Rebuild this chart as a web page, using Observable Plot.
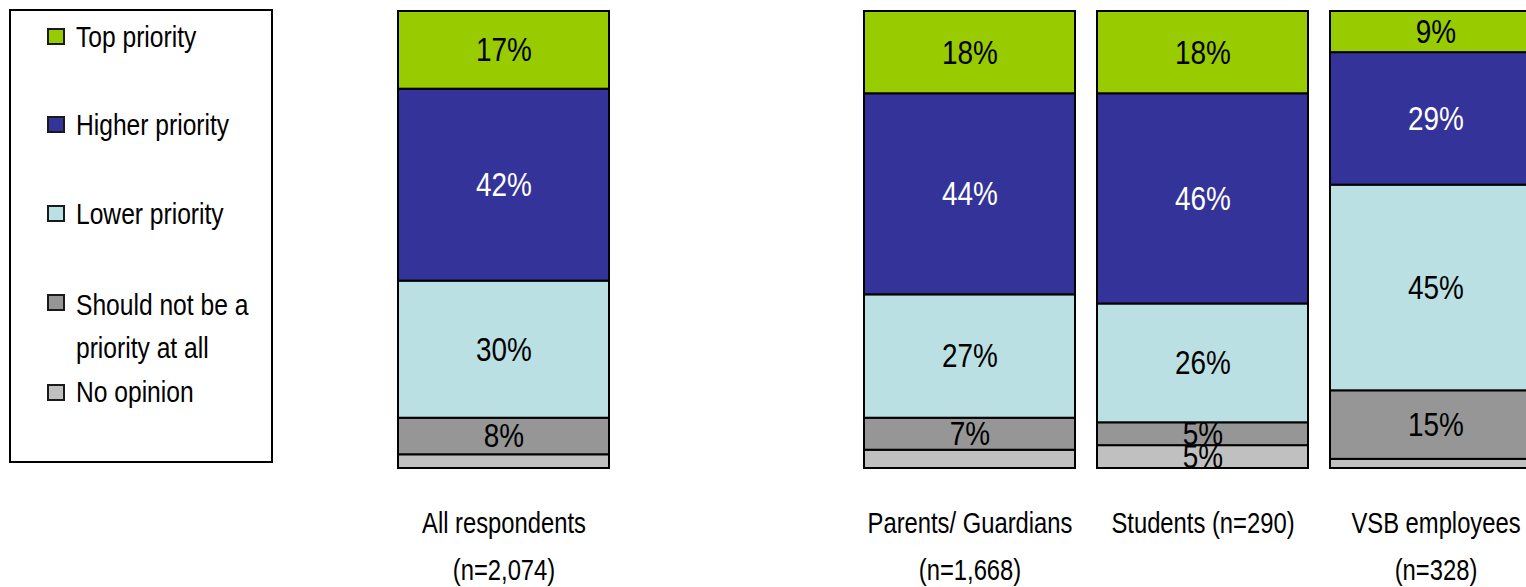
<!DOCTYPE html>
<html>
<head>
<meta charset="utf-8">
<script src="https://cdn.jsdelivr.net/npm/d3@7"></script>
<script src="https://cdn.jsdelivr.net/npm/@observablehq/plot@0.6"></script>
<style>
  html, body { margin: 0; padding: 0; background: #fff; }
  #wrap { position: relative; width: 1526px; height: 587px; overflow: hidden;
          font-family: "Liberation Sans", Arial, sans-serif; }
  #wrap svg { position: absolute; left: 0; top: 0; }
  .legend-box { position: absolute; left: 9px; top: 9px; width: 264px; height: 454px;
                box-sizing: border-box; border: 2px solid #000; }
  .sw { position: absolute; left: 47px; width: 18px; height: 17px; box-sizing: border-box; border: 2px solid #1a1a1a; }
  .lt { position: absolute; left: 76px; font-size: 30px; line-height: 43px; white-space: pre; color: #000;
        transform: scaleX(0.82); transform-origin: left top; }
</style>
</head>
<body>
<div id="wrap"></div>
<script>
// ---- data ----
const groups = ["All respondents", "gap", "Parents/ Guardians", "Students", "VSB employees"];
const groupLabels = ["All respondents\n(n=2,074)", "", "Parents/ Guardians\n(n=1,668)", "Students (n=290)", "VSB employees\n(n=328)"];
const barGroups = ["All respondents", "Parents/ Guardians", "Students", "VSB employees"];
const categories = ["Top priority", "Higher priority", "Lower priority", "Should not be a priority at all", "No opinion"];
const legendLabels = ["Top priority", "Higher priority", "Lower priority", "Should not be a\npriority at all", "No opinion"];
const colors = ["#99CC00", "#333399", "#BBE0E3", "#969696", "#C0C0C0"];
const topPriority = [17, 18, 18, 9];
const higherPriority = [42, 44, 46, 29];
const lowerPriority = [30, 27, 26, 45];
const notPriority = [8, 7, 5, 15];
const noOpinion = [3, 4, 5, 2];

// bottom-to-top stacking order
const series = [
  ["No opinion", noOpinion],
  ["Should not be a priority at all", notPriority],
  ["Lower priority", lowerPriority],
  ["Higher priority", higherPriority],
  ["Top priority", topPriority]
];
const data = [];
barGroups.forEach((g, i) => {
  series.forEach(([cat, vals]) => data.push({group: g, category: cat, value: vals[i]}));
});

const font = '"Liberation Sans", Arial, sans-serif';

const chart = Plot.plot({
  width: 1526,
  height: 587,
  marginTop: 11,
  marginBottom: 119,
  style: {fontFamily: font, color: "#000", background: "transparent"},
  x: {domain: groups, range: [374.7, 1563.5], paddingInner: 0.0956, paddingOuter: 0.0956, axis: null},
  y: {domain: [0, 100], axis: null},
  color: {domain: categories, range: colors},
  marks: [
    Plot.barY(data, {x: "group", y: "value", fill: "category", z: "category", stroke: "#000", strokeWidth: 2}),
    Plot.text(data, Plot.stackY({x: "group", y: "value", z: "category",
      text: d => d.category === "Higher priority" ? d.value + "%" : null,
      fill: "#fff", fontSize: 34})),
    Plot.text(data, Plot.stackY({x: "group", y: "value", z: "category",
      text: d => (d.category !== "Higher priority" && d.value >= 5) ? d.value + "%" : null,
      fill: "#000", fontSize: 34})),
    Plot.axisX({tickSize: 0, tickPadding: 31, fontSize: 29, lineHeight: 1.62, label: null,
      tickFormat: d => groupLabels[groups.indexOf(d)], fill: "#000"})
  ]
});

const wrap = document.getElementById("wrap");
wrap.appendChild(chart);

// narrow the glyphs (Arial Narrow look) without moving any text anchor
chart.querySelectorAll("text").forEach(t => {
  const spans = t.querySelectorAll("tspan");
  const items = spans.length ? Array.from(spans) : [t];
  items.forEach(el => {
    const len = el.getComputedTextLength();
    if (len > 0) {
      el.setAttribute("textLength", (len * 0.82).toFixed(2));
      el.setAttribute("lengthAdjust", "spacingAndGlyphs");
    }
  });
});

// legend (HTML, left of the bars)
const box = document.createElement("div");
box.className = "legend-box";
wrap.appendChild(box);
const swTops = [28, 116, 205, 294, 384];
const textTops = [15, 103, 192, 283, 370];
categories.forEach((c, i) => {
  const sw = document.createElement("div");
  sw.className = "sw";
  sw.style.top = swTops[i] + "px";
  sw.style.background = colors[i];
  wrap.appendChild(sw);
  const t = document.createElement("div");
  t.className = "lt";
  t.style.top = textTops[i] + "px";
  t.textContent = legendLabels[i];
  wrap.appendChild(t);
});
</script>
</body>
</html>
